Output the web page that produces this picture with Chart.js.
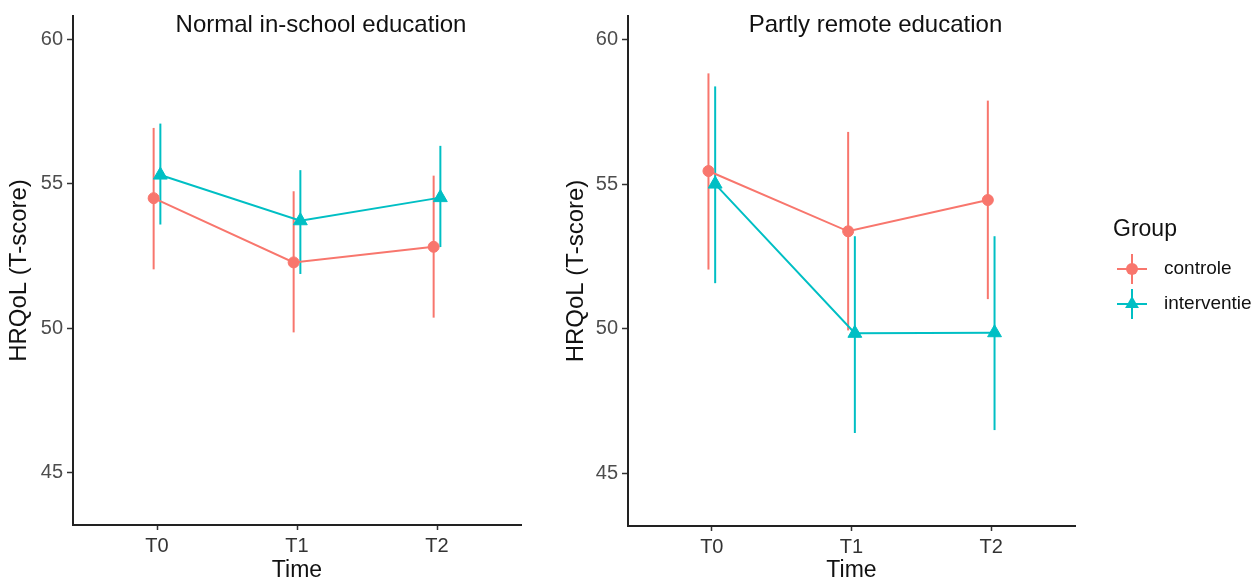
<!DOCTYPE html>
<html>
<head>
<meta charset="utf-8">
<script src="https://cdn.jsdelivr.net/npm/chart.js@4.4.1/dist/chart.umd.min.js"></script>
<style>
  html, body { margin: 0; padding: 0; background: #fff; }
  #wrap { position: relative; width: 1255px; height: 582px; }
  #left { position: absolute; left: 0; top: 0; }
  #right { position: absolute; left: 545px; top: 0; }
</style>
</head>
<body>
<div id="wrap">
  <canvas id="left" width="545" height="582"></canvas>
  <canvas id="right" width="710" height="582"></canvas>
</div>
<script>
// tijdstippen en groepen
const timePoints = ['T0', 'T1', 'T2'];
const groups = ['controle', 'interventie'];
const groupColors = ['#F8766D', '#00BFC4'];
const yTicks = [45, 50, 55, 60];

// Normal in-school education
const schoolControle = [54.50, 52.28, 52.82];
const schoolControleLow = [52.04, 49.86, 50.37];
const schoolControleHigh = [56.93, 54.74, 55.28];
const schoolInterventie = [55.30, 53.72, 54.52];
const schoolInterventieLow = [53.59, 51.88, 52.81];
const schoolInterventieHigh = [57.08, 55.47, 56.31];

// Partly remote education
const remoteControle = [55.45, 53.37, 54.45];
const remoteControleLow = [52.05, 49.95, 51.03];
const remoteControleHigh = [58.82, 56.80, 57.88];
const remoteInterventie = [55.00, 49.85, 49.87];
const remoteInterventieLow = [51.58, 46.41, 46.51];
const remoteInterventieHigh = [58.37, 53.20, 53.20];

const FONT = '"Liberation Sans", Arial, Helvetica, sans-serif';
Chart.defaults.font.family = FONT;

// kleine verschuiving zodat de groepen niet overlappen
const dodge = [-0.024, 0.024];

function makeDatasets(means, lows, highs) {
  return groups.map((g, gi) => ({
    label: g,
    data: means[gi].map((v, i) => ({ x: i + dodge[gi], y: v })),
    low: lows[gi],
    high: highs[gi],
    borderColor: groupColors[gi],
    backgroundColor: groupColors[gi],
    borderWidth: 2,
    pointStyle: gi === 0 ? 'circle' : 'triangle',
    pointRadius: gi === 0 ? 5.5 : 8,
    pointBorderWidth: 1,
    pointHoverRadius: gi === 0 ? 5.5 : 8,
    tension: 0
  }));
}

// foutbalken
const errorBars = {
  id: 'errorBars',
  beforeDatasetsDraw(chart) {
    const { ctx, scales: { x, y } } = chart;
    chart.data.datasets.forEach(ds => {
      ctx.save();
      ctx.strokeStyle = ds.borderColor;
      ctx.lineWidth = 2;
      ds.data.forEach((p, j) => {
        const px = x.getPixelForValue(p.x);
        ctx.beginPath();
        ctx.moveTo(px, y.getPixelForValue(ds.low[j]));
        ctx.lineTo(px, y.getPixelForValue(ds.high[j]));
        ctx.stroke();
      });
      ctx.restore();
    });
  }
};

// paneeltitel
const panelTitle = {
  id: 'panelTitle',
  afterDraw(chart, args, opts) {
    const { ctx, chartArea } = chart;
    ctx.save();
    ctx.font = '24px ' + FONT;
    ctx.fillStyle = '#111';
    ctx.textAlign = 'center';
    ctx.textBaseline = 'middle';
    ctx.fillText(opts.text, (chartArea.left + chartArea.right) / 2 + opts.shift, opts.y);
    ctx.restore();
  }
};

// legenda rechts
const groupLegend = {
  id: 'groupLegend',
  afterDraw(chart, args, opts) {
    if (!opts.show) return;
    const { ctx, chartArea } = chart;
    const x0 = chartArea.right + 38;
    const yc = (chartArea.top + chartArea.bottom) / 2;
    ctx.save();
    ctx.fillStyle = '#111';
    ctx.textAlign = 'left';
    ctx.textBaseline = 'alphabetic';
    ctx.font = '23px ' + FONT;
    ctx.fillText('Group', x0, yc - 35);
    groups.forEach((g, gi) => {
      const cy = yc - 2 + gi * 35;
      const cx = x0 + 19;
      ctx.strokeStyle = groupColors[gi];
      ctx.fillStyle = groupColors[gi];
      ctx.lineWidth = 2;
      ctx.beginPath();
      ctx.moveTo(cx - 15, cy); ctx.lineTo(cx + 15, cy);
      ctx.moveTo(cx, cy - 15); ctx.lineTo(cx, cy + 15);
      ctx.stroke();
      ctx.beginPath();
      if (gi === 0) {
        ctx.arc(cx, cy, 6, 0, Math.PI * 2);
      } else {
        const r = 8;
        for (let k = 0; k < 3; k++) {
          const a = k * 2 * Math.PI / 3;
          const px = cx + Math.sin(a) * r, py = cy - Math.cos(a) * r;
          if (k === 0) ctx.moveTo(px, py); else ctx.lineTo(px, py);
        }
        ctx.closePath();
      }
      ctx.fill();
      ctx.fillStyle = '#111';
      ctx.font = '19px ' + FONT;
      ctx.textBaseline = 'middle';
      ctx.fillText(g, x0 + 51, cy);
      ctx.textBaseline = 'alphabetic';
    });
    ctx.restore();
  }
};

function makeChart(id, title, datasets, cfg) {
  return new Chart(document.getElementById(id), {
    type: 'line',
    data: { datasets: datasets },
    plugins: [errorBars, panelTitle, groupLegend],
    options: {
      responsive: false,
      animation: false,
      layout: { padding: { top: cfg.top, right: cfg.right, bottom: 0, left: 0 } },
      plugins: {
        legend: { display: false },
        tooltip: { enabled: false },
        panelTitle: { text: title, shift: 24, y: 25 },
        groupLegend: { show: cfg.legend }
      },
      scales: {
        x: {
          type: 'linear',
          min: -0.6,
          max: 2.6,
          afterBuildTicks: s => { s.ticks = timePoints.map((_, i) => ({ value: i })); },
          afterFit: s => { s.height = cfg.xHeight; },
          ticks: {
            callback: v => timePoints[v],
            font: { size: 20 },
            color: '#333',
            padding: 4,
            maxRotation: 0,
            autoSkip: false
          },
          grid: { display: true, drawOnChartArea: false, drawTicks: true, tickLength: 5, tickColor: '#333', tickWidth: 1.5 },
          border: { display: true, color: '#222', width: 2 },
          title: { display: true, text: 'Time', font: { size: 23, lineHeight: 1 }, color: '#111', padding: { top: 0, bottom: 0 } }
        },
        y: {
          min: 43.2,
          max: 60.8,
          afterBuildTicks: s => { s.ticks = yTicks.map(v => ({ value: v })); },
          afterFit: s => { s.width = cfg.yWidth; },
          ticks: { font: { size: 20 }, color: '#4d4d4d', padding: 4 },
          grid: { display: true, drawOnChartArea: false, drawTicks: true, tickLength: 6, tickColor: '#333', tickWidth: 1.5 },
          border: { display: true, color: '#222', width: 2 },
          title: { display: true, text: 'HRQoL (T-score)', font: { size: 24 }, color: '#111', padding: { top: cfg.yTitlePad, bottom: 0 } }
        }
      }
    }
  });
}

makeChart('left', 'Normal in-school education',
  makeDatasets([schoolControle, schoolInterventie],
               [schoolControleLow, schoolInterventieLow],
               [schoolControleHigh, schoolInterventieHigh]),
  { top: 15, right: 24, xHeight: 57, yWidth: 73, yTitlePad: 5, legend: false });

makeChart('right', 'Partly remote education',
  makeDatasets([remoteControle, remoteInterventie],
               [remoteControleLow, remoteInterventieLow],
               [remoteControleHigh, remoteInterventieHigh]),
  { top: 16, right: 180, xHeight: 56, yWidth: 83, yTitlePad: 17, legend: true });
</script>
</body>
</html>
